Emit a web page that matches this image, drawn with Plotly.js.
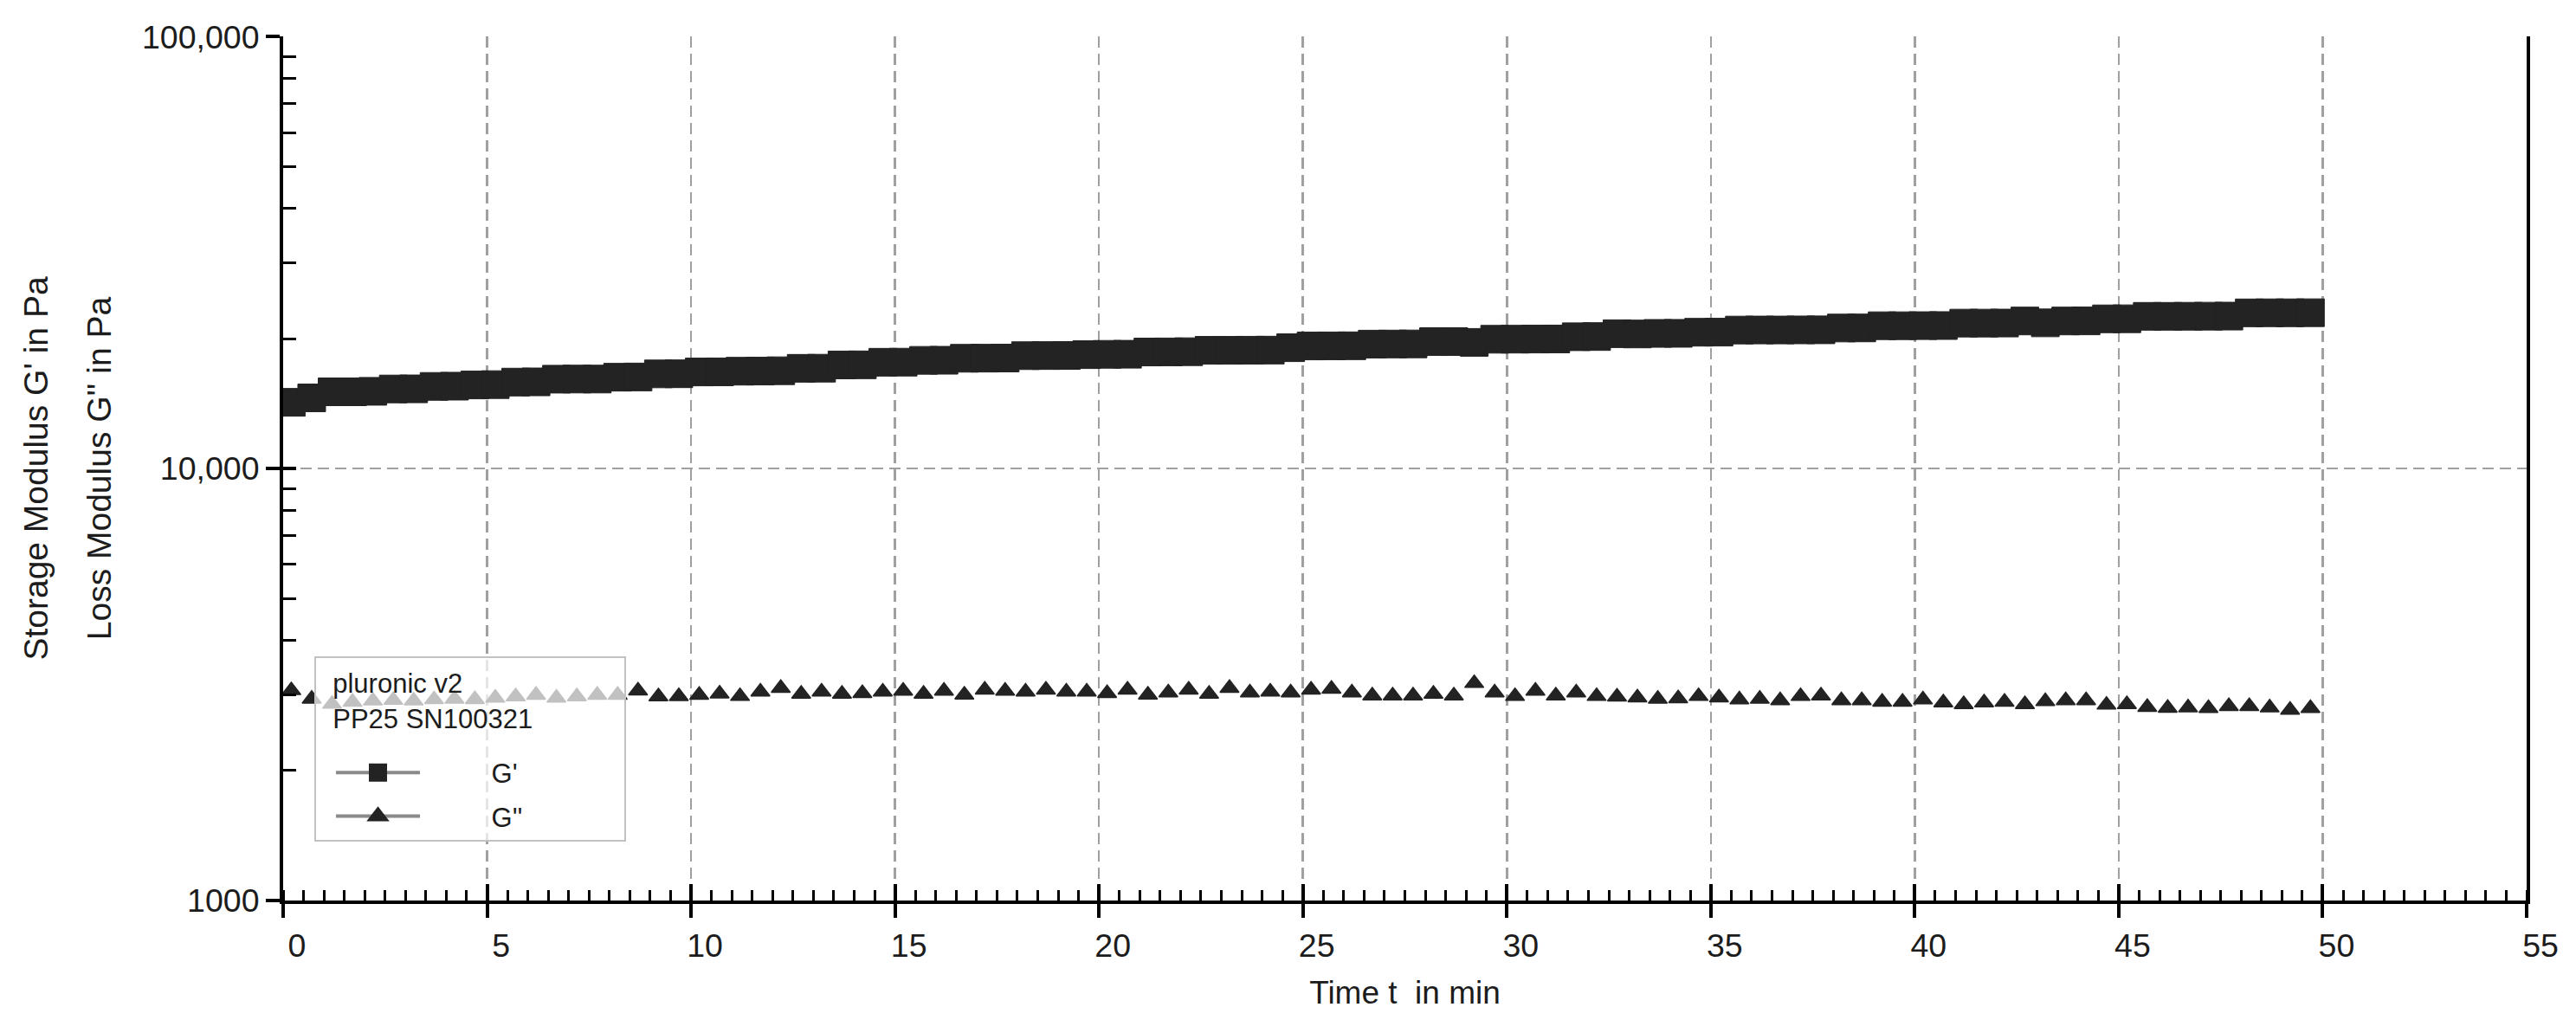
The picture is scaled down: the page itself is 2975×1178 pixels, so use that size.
<!DOCTYPE html>
<html>
<head>
<meta charset="utf-8">
<script src="https://cdn.plot.ly/plotly-3.0.1.min.js"></script>
<style>html,body{margin:0;padding:0;background:#fff;}#chart{width:2975px;height:1178px;}</style>
</head>
<body>
<div id="chart"></div>
<script>
// ---- data ----
const timeMin = [0.2,0.7,1.2,1.7,2.2,2.7,3.2,3.7,4.2,4.7,5.2,5.7,6.2,6.7,7.2,7.7,8.2,8.7,9.2,9.7,
  10.2,10.7,11.2,11.7,12.2,12.7,13.2,13.7,14.2,14.7,15.2,15.7,16.2,16.7,17.2,17.7,18.2,18.7,19.2,19.7,
  20.2,20.7,21.2,21.7,22.2,22.7,23.2,23.7,24.2,24.7,25.2,25.7,26.2,26.7,27.2,27.7,28.2,28.7,29.2,29.7,
  30.2,30.7,31.2,31.7,32.2,32.7,33.2,33.7,34.2,34.7,35.2,35.7,36.2,36.7,37.2,37.7,38.2,38.7,39.2,39.7,
  40.2,40.7,41.2,41.7,42.2,42.7,43.2,43.7,44.2,44.7,45.2,45.7,46.2,46.7,47.2,47.7,48.2,48.7,49.2,49.7];

const storageModulus = [14240,14580,15060,15060,15100,15290,15300,15500,15520,15620,15650,15860,15880,16110,16120,16120,16280,16300,16570,16580,16740,16750,
  16810,16820,16850,17070,17080,17380,17390,17630,17640,17810,17820,18010,18020,18030,18260,18270,18280,18360,18390,18400,18620,18630,
  18650,18790,18790,18800,18810,19050,19230,19240,19250,19420,19430,19440,19680,19680,19600,19930,19940,19950,19960,20200,20220,20530,
  20500,20560,20570,20690,20700,20930,20940,20940,20950,20960,21160,21170,21420,21420,21430,21440,21720,21720,21730,21970,21750,21970,21980,22220,22230,22520,
  22520,22530,22540,22550,22940,22950,22950,22960];

const lossModulus = [3065,2930,2850,2880,2900,2910,2900,2920,2930,2922,2944,2965,2989,2944,2965,2989,2990,3059,2967,2970,2989,3012,
  2971,3041,3102,3008,3041,3008,3017,3041,3055,3008,3055,2994,3073,3055,3041,3073,3041,3041,3017,3073,2994,3027,
  3073,3008,3102,3027,3041,3027,3073,3088,3027,2980,2980,2980,3008,2980,3184,3027,2971,3055,2980,3027,2971,2962,
  2949,2927,2935,2971,2949,2917,2927,2904,2971,2980,2904,2904,2881,2881,2917,2872,2846,2872,2881,2846,2890,2904,2904,2837,2846,2802,
  2790,2795,2786,2816,2816,2795,2760,2786];

const seriesNames = ["G'", "G''"];
const legendTitle = ['pluronic v2', 'PP25 SN100321'];
const xTitle = 'Time t\u00a0 in min';
const yTitleStorage = "Storage Modulus G' in Pa";
const yTitleLoss = "Loss Modulus G'' in Pa";
const yTickVals = [1000, 10000, 100000];
const yTickText = ['1000', '10,000', '100,000'];

// ---- chart ----
const yMinorVals = [];
[1000, 10000].forEach(function (d) { for (let k = 2; k <= 9; k++) yMinorVals.push(d * k); });

const FONT = 'Liberation Sans, Arial, Helvetica, sans-serif';
const MARK = '#232323';
const NB = '\u00a0';
const PAD = NB.repeat(9);
const legendTitleText = NB + NB + legendTitle[0] + '<br>' + NB + NB + legendTitle[1] + NB.repeat(12);

const traces = [
  { x: timeMin, y: storageModulus, name: seriesNames[0], type: 'scatter', mode: 'markers', showlegend: false,
    marker: { symbol: 'square', size: 32, color: MARK, line: { color: MARK, width: 1 } } },
  { x: timeMin, y: lossModulus, name: seriesNames[1], type: 'scatter', mode: 'markers', showlegend: false,
    marker: { symbol: 'triangle-up', size: 19, color: MARK, line: { color: MARK, width: 1.5 } } },
  // legend entries (symbol with connecting line, as in the reference legend)
  { x: [null], y: [null], name: PAD + seriesNames[0], type: 'scatter', mode: 'lines+markers', hoverinfo: 'skip',
    legendgroup: 'g1', legendgrouptitle: { text: NB, font: { size: 17 } },
    line: { color: '#8a8a8a', width: 4 },
    marker: { symbol: 'square', size: 16, color: MARK, line: { color: MARK, width: 5 } } },
  { x: [null], y: [null], name: PAD + seriesNames[1], type: 'scatter', mode: 'lines+markers', hoverinfo: 'skip',
    legendgroup: 'g2',
    line: { color: '#8a8a8a', width: 4 },
    marker: { symbol: 'triangle-up', size: 16, color: MARK, line: { color: MARK, width: 4 } } },
  // carriers for the inner halves of the major ticks
  { x: [null], y: [null], xaxis: 'x2', yaxis: 'y', showlegend: false, hoverinfo: 'skip', mode: 'markers' },
  { x: [null], y: [null], xaxis: 'x', yaxis: 'y2', showlegend: false, hoverinfo: 'skip', mode: 'markers' }
];

const GRID = { showgrid: true, gridcolor: '#a0a0a0', gridwidth: 2.5, griddash: '13px,7px' };
const Y_RANGE = [3, 5.0008];

const layout = {
  width: 2975, height: 1178,
  margin: { l: 327, r: 57, t: 42, b: 138, autoexpand: false },
  paper_bgcolor: '#ffffff', plot_bgcolor: '#ffffff',
  font: { family: FONT, size: 38, color: '#1c1c1c' },
  showlegend: true,
  xaxis: Object.assign({
    range: [0, 55], tickmode: 'linear', tick0: 0, dtick: 5,
    ticks: 'outside', ticklen: 16, tickwidth: 4, tickcolor: '#000',
    showline: true, linewidth: 4, linecolor: '#000', mirror: false,
    zeroline: false, automargin: false, fixedrange: true,
    tickfont: { family: FONT, size: 37.5, color: '#1c1c1c' },
    ticklabelshift: 16,
    minor: { ticks: 'inside', ticklen: 12, tickwidth: 3, tickcolor: '#000', tick0: 0, dtick: 0.5, showgrid: false },
    title: { text: xTitle, font: { family: FONT, size: 37, color: '#1c1c1c' }, standoff: 22 }
  }, GRID),
  xaxis2: {
    overlaying: 'x', anchor: 'y', side: 'bottom', range: [0, 55], tickmode: 'linear', tick0: 0, dtick: 5,
    ticks: 'inside', ticklen: 19, tickwidth: 4, tickcolor: '#000',
    showticklabels: false, showline: false, showgrid: false, zeroline: false, automargin: false, fixedrange: true
  },
  yaxis: Object.assign({
    type: 'log', range: Y_RANGE, tickmode: 'array', tickvals: yTickVals, ticktext: yTickText,
    ticks: 'outside', ticklen: 16, tickwidth: 4, tickcolor: '#000',
    showline: true, linewidth: 4, linecolor: '#000', mirror: true,
    zeroline: false, automargin: false, fixedrange: true,
    tickfont: { family: FONT, size: 37.5, color: '#1c1c1c' },
    minor: { tickmode: 'array', tickvals: yMinorVals, ticks: 'inside', ticklen: 15, tickwidth: 3, tickcolor: '#000', showgrid: false },
    title: { text: yTitleLoss, font: { family: FONT, size: 39, color: '#1c1c1c' }, standoff: 24 }
  }, GRID),
  yaxis2: {
    overlaying: 'y', anchor: 'x', side: 'left', type: 'log', range: Y_RANGE,
    tickmode: 'array', tickvals: yTickVals, ticks: 'inside', ticklen: 15, tickwidth: 4, tickcolor: '#000',
    showticklabels: false, showline: false, showgrid: false, zeroline: false, automargin: false, fixedrange: true,
    title: { text: yTitleStorage, font: { family: FONT, size: 39, color: '#1c1c1c' }, standoff: 258 }
  },
  legend: {
    x: 0.0139, y: 0.2826, xanchor: 'left', yanchor: 'top',
    bgcolor: 'rgba(255,255,255,0.72)', bordercolor: '#c2c2c2', borderwidth: 2,
    font: { family: FONT, size: 31, color: '#1c1c1c' },
    title: { text: legendTitleText, font: { family: FONT, size: 31, color: '#1c1c1c' } },
    itemwidth: 97, indentation: 18, tracegroupgap: 7
  }
};

Plotly.newPlot('chart', traces, layout, { displayModeBar: false, staticPlot: true });
</script>
</body>
</html>
